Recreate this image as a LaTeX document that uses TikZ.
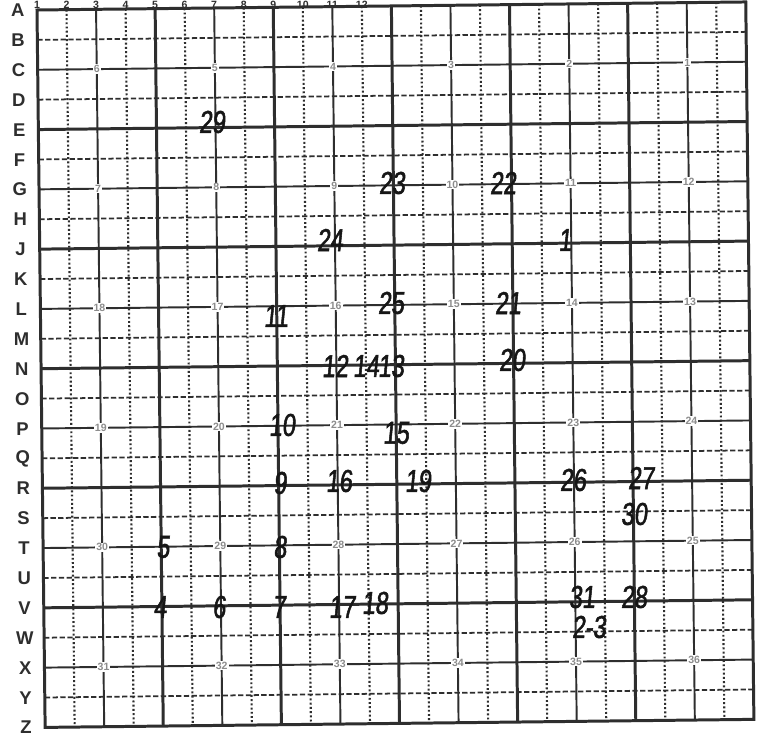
\documentclass[tikz,border=0pt]{standalone}
\usepackage{fontspec}
\setmainfont{Liberation Sans}
\newfontfamily\handfont[FakeStretch=0.74,FakeSlant=0.1,FakeBold=1.6]{Liberation Sans}
\usetikzlibrary{positioning}
\definecolor{gridink}{HTML}{2E2E2E}
\definecolor{penink}{HTML}{161616}
\definecolor{secgray}{HTML}{8C8C8C}

\begin{document}
\begin{tikzpicture}[x=0.02cm,y=-0.02cm,
    secline/.style={gridink,line width=1.7pt},
    mainline/.style={gridink,line width=1.1pt},
    vdots/.style={gridink,line width=1.2pt,dash pattern=on 1.1pt off 1.3pt},
    hdash/.style={gridink,line width=1pt,dash pattern=on 3pt off 1.4pt},
    secnum/.style={font=\fontsize{6}{6}\selectfont\bfseries,text=secgray,fill=white,inner sep=0.6pt},
    rowlabel/.style={font=\fontsize{10.5}{12}\selectfont\bfseries,text=gridink,inner sep=0pt},
    collabel/.style={font=\fontsize{6}{7}\selectfont\bfseries,text=gridink,inner sep=0pt},
    hand/.style={font=\handfont\fontsize{18}{18}\selectfont,text=penink,inner sep=0pt}]
  \useasboundingbox (0,0) rectangle (766,736);
  \clip (0,0) rectangle (766,736);
  \fill[white] (0,0) rectangle (766,736);
  % printed grid, scanned a little askew
  \begin{scope}[shift={(37,10)},rotate=0.65,x=0.5908cm,y=-0.598cm]
    \foreach \i in {1,3,...,23} {
      \draw[vdots] (\i,0) -- (\i,24);
      \draw[hdash] (0,\i) -- (24,\i);
    }
    \foreach \i in {2,6,...,22} {
      \draw[mainline] (\i,0) -- (\i,24);
      \draw[mainline] (0,\i) -- (24,\i);
    }
    \foreach \i in {4,8,...,20} {
      \draw[secline] (\i,0) -- (\i,24);
      \draw[secline] (0,\i) -- (24,\i);
    }
    \draw[secline] (0,0) rectangle (24,24);
    % section numbers
    \foreach \n [count=\k from 0] in {6,5,4,3,2,1,7,8,9,10,11,12,18,17,16,15,14,13,
        19,20,21,22,23,24,30,29,28,27,26,25,31,32,33,34,35,36} {
      \pgfmathtruncatemacro{\row}{int(\k/6)}
      \pgfmathtruncatemacro{\col}{mod(\k,6)}
      \node[secnum] (sec-\n) at ({2+4*\col},{2+4*\row}) {\n};
    }
    \foreach \l [count=\k from 0] in {A,B,C,D,E,F,G,H,J,K,L,M,N,O,P,Q,R,S,T,U,V,W,X,Y,Z}
      \node[rowlabel] (row-\l) at (-0.65,\k) {\l};
    % column numbers along the top edge (kept level with the page)
    \foreach \n in {1,...,12}
      \node[collabel] (col-\n) at ({\n-1},{-0.17+0.0112*(\n-1)}) {\n};
  \end{scope}
  % handwritten numbers
  \foreach \t/\px/\py in {29/212/122,23/392/183,22/503/183,24/330/240,1/565/240,
      11/276/316,25/391/303,21/508/303,12/335/366,14/366/366,13/391/366,20/512/360,
      10/282/425,15/396/433,9/280/483,16/339/481,19/418/481,26/573/480,27/641/478,
      30/634/514,5/163/547,8/280/547,4/160/607,6/219/607,7/279/607,17/342/607,
      18/375/603,31/582/597,28/634/597,2-3/589/627} {
    \node[hand] (hw-\t) at (\px,\py) {\t};
  }
\end{tikzpicture}
\end{document}
